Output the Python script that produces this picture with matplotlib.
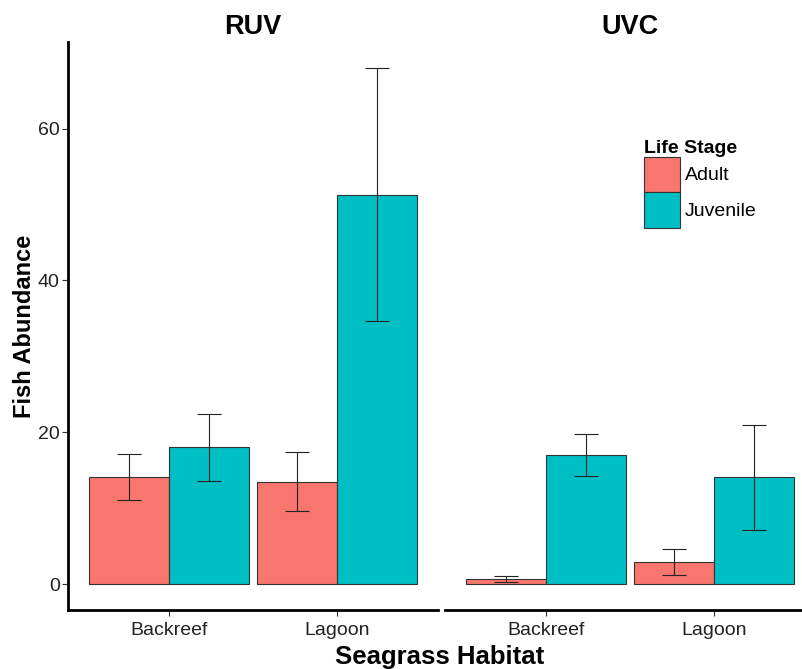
import numpy as np
import matplotlib.pyplot as plt
from matplotlib.patches import Patch

plt.rcParams['font.family'] = ['Liberation Sans', 'DejaVu Sans']

# Mean abundance (+/- SE) per method, habitat and life stage
habitats = ['Backreef', 'Lagoon']
methods = ['RUV', 'UVC']
stages = ['Adult', 'Juvenile']

ruv_adult = [14.1, 13.5]
ruv_adult_se = [3.0, 3.9]
ruv_juvenile = [18.0, 51.3]
ruv_juvenile_se = [4.45, 16.7]

uvc_adult = [0.66, 2.88]
uvc_adult_se = [0.37, 1.72]
uvc_juvenile = [17.0, 14.05]
uvc_juvenile_se = [2.75, 6.9]

colors = {'Adult': '#F8766D', 'Juvenile': '#00BFC4'}

panels = {
    'RUV': {'Adult': (ruv_adult, ruv_adult_se), 'Juvenile': (ruv_juvenile, ruv_juvenile_se)},
    'UVC': {'Adult': (uvc_adult, uvc_adult_se), 'Juvenile': (uvc_juvenile, uvc_juvenile_se)},
}

fig = plt.figure(figsize=(8.03, 6.69), dpi=100)
ax_left = fig.add_axes([0.0847, 0.0882, 0.4608, 0.849])
ax_right = fig.add_axes([0.5542, 0.0882, 0.4608, 0.849])

x = np.arange(len(habitats)) + 1
w = 0.475
for ax, method in zip([ax_left, ax_right], methods):
    for i, stage in enumerate(stages):
        vals, se = panels[method][stage]
        pos = x + (i - 0.5) * w
        ax.bar(pos, vals, width=w, color=colors[stage], edgecolor='#333333', linewidth=0.8)
        ax.errorbar(pos, vals, yerr=se, fmt='none', ecolor='#222222', elinewidth=0.8,
                    capsize=8.5, capthick=0.8)
    ax.set_xlim(0.4, 2.6)
    ax.set_ylim(-3.4, 71.4)
    ax.set_xticks(x)
    ax.set_xticklabels(habitats)
    ax.set_title(method, fontsize=19.5, fontweight='bold', pad=6)
    for s in ['top', 'right']:
        ax.spines[s].set_visible(False)
    ax.spines['bottom'].set_linewidth(2)
    ax.spines['left'].set_linewidth(2)
    ax.tick_params(axis='both', length=4, width=0.8, color='#333333', labelsize=14,
                   labelcolor='#222222')
    ax.tick_params(axis='x', pad=5)
    ax.tick_params(axis='y', pad=2)

ax_left.set_yticks([0, 20, 40, 60])
ax_left.set_ylabel('Fish Abundance', fontsize=17, fontweight='bold', labelpad=1)
ax_right.spines['left'].set_visible(False)
ax_right.set_yticks([])

fig.text(0.548, 0.008, 'Seagrass Habitat', fontsize=18.5, fontweight='bold', ha='center')

handles = [Patch(facecolor=colors[s], edgecolor='#333333', linewidth=0.8, label=s) for s in stages]
leg = fig.legend(handles=handles, title='Life Stage', loc='upper left',
                 bbox_to_anchor=(0.7895, 0.806), frameon=False, fontsize=14,
                 handlelength=1.85, handleheight=2.47, labelspacing=0.0,
                 handletextpad=0.25, borderpad=0, title_fontsize=14)
leg.get_title().set_fontweight('bold')
leg._legend_box.align = 'left'

fig.savefig('out.png', dpi=100)
